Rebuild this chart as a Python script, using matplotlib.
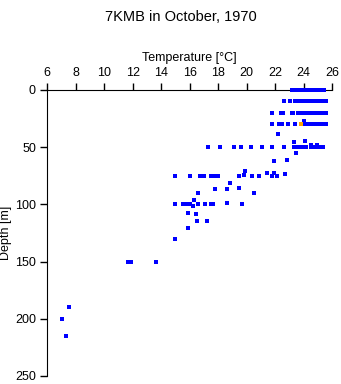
import numpy as np
from matplotlib import pyplot as plt

plt.rcParams['font.family'] = ['Liberation Sans', 'DejaVu Sans']

# surface rows (dense clusters of casts)
t_0 = [23.15, 23.25, 23.35, 23.45, 23.55, 23.65, 23.75, 23.85, 23.95, 24.05, 24.15,
       24.25, 24.35, 24.45, 24.55, 24.65, 24.75, 24.85, 24.95, 25.05, 25.15, 25.25, 25.4]
d_0 = [0] * len(t_0)

t_10 = [22.6, 23.05, 23.4, 23.5, 23.6, 23.7, 23.8, 23.9, 24.0, 24.1, 24.2, 24.3, 24.4,
        24.5, 24.6, 24.7, 24.8, 24.9, 25.0, 25.1, 25.2, 25.3, 25.45, 25.55]
d_10 = [10] * len(t_10)

t_20 = [21.75, 22.4, 22.55, 23.15, 23.25, 23.6, 23.7, 23.8, 23.9, 24.0, 24.1, 24.2, 24.3,
        24.4, 24.5, 24.6, 24.7, 24.8, 24.9, 25.0, 25.1, 25.2, 25.3, 25.45, 25.55]
d_20 = [20] * len(t_20)

t_30 = [21.75, 22.25, 22.5, 22.9, 23.4, 24.0, 24.1, 24.2, 24.3, 24.4, 24.5, 24.6,
        24.7, 24.8, 24.95, 25.05, 25.15, 25.25, 25.35, 25.45, 25.6]
d_30 = [30] * len(t_30)

t_50 = [17.3, 18.1, 19.1, 19.6, 20.3, 21.1, 21.8, 22.6, 23.3, 23.4, 23.5, 23.6, 23.7,
        23.8, 23.9, 24.0, 24.1, 24.2, 24.5, 24.6, 24.7, 24.8, 24.95, 25.1, 25.2, 25.35]
d_50 = [50] * len(t_50)

t_75 = [15.0, 16.0, 16.7, 17.0, 17.5, 17.7, 18.0, 19.5, 20.4, 20.9, 21.75, 22.1]
d_75 = [75.5] * len(t_75)

t_100 = [15.0, 15.55, 15.75, 16.0, 16.6, 17.1, 17.5, 19.65]
d_100 = [100] * len(t_100)

# scattered single observations
t_misc = [24.0, 24.95, 22.2, 24.1, 23.3, 24.5, 24.95, 23.5, 22.85, 21.9, 19.9, 21.4,
          21.9, 22.7, 19.8, 18.8, 17.8, 18.6, 19.5, 16.6, 20.5, 16.3, 18.6, 17.65,
          16.25, 15.9, 16.45, 16.55, 17.2, 15.9, 15.0, 11.7, 11.9, 13.65, 7.55, 7.05, 7.35]
d_misc = [27.5, 29.5, 38.5, 44.5, 45.5, 48.5, 48.5, 55, 61, 62.5, 70.5, 72.5,
          72.5, 73.5, 74.5, 81.5, 86.5, 86.5, 85.5, 90.5, 90.5, 96.5, 98.5, 99.5,
          101.5, 107.5, 108.5, 115, 115, 120.5, 130, 150, 150, 150, 190, 200, 215]

# one cast drawn in orange
t_orange = [23.8]
d_orange = [30]

temps = t_0 + t_10 + t_20 + t_30 + t_50 + t_75 + t_100 + t_misc
depths = d_0 + d_10 + d_20 + d_30 + d_50 + d_75 + d_100 + d_misc

fig = plt.figure(figsize=(3.41, 3.84), dpi=100)
ax = fig.add_axes([0.138, 0.021, 0.836, 0.745])
ax.plot(temps, depths, 's', color='#0000ff', markersize=2.5, markeredgewidth=0,
        clip_on=False, zorder=5)
ax.plot(t_orange, d_orange, 's', color='#ffa500', markersize=2.5, markeredgewidth=0,
        clip_on=False, zorder=6)

ax.set_xlim(6, 26)
ax.set_ylim(250, 0)
ax.set_xticks(range(6, 27, 2))
ax.set_yticks(range(0, 251, 50))
ax.xaxis.tick_top()
ax.xaxis.set_label_position('top')
ax.spines['right'].set_visible(False)
ax.spines['bottom'].set_visible(False)
ax.tick_params(direction='out', length=5, width=1, labelsize=9, pad=3)
ax.set_xlabel('Temperature [°C]', fontsize=9, labelpad=4)
ax.set_ylabel('Depth [m]', fontsize=9, labelpad=2)
fig.text(0.53, 0.975, '7KMB in October, 1970', ha='center', va='top', fontsize=10.5)

fig.savefig('out.png', dpi=100)
